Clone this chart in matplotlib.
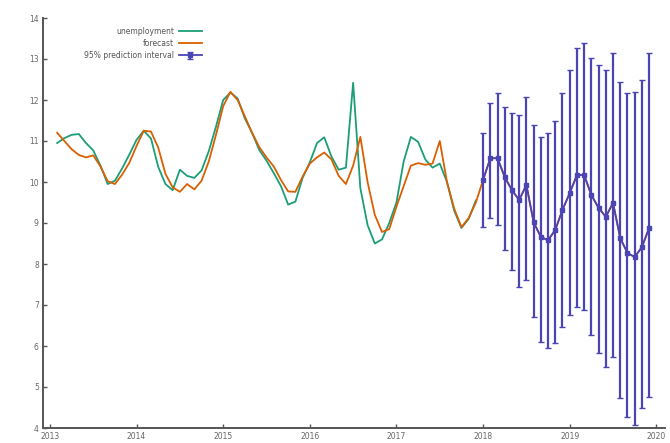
import numpy as np
import matplotlib
matplotlib.use("Agg")
import matplotlib.pyplot as plt

# Monthly unemployment rate (%), Feb 2013 - Dec 2017
observed = [10.95, 11.07, 11.15, 11.17, 10.95, 10.77, 10.40, 9.95, 10.03, 10.33, 10.67,
            11.03, 11.25, 11.06, 10.37, 9.95, 9.80, 10.30, 10.15, 10.10, 10.28, 10.75,
            11.35, 12.00, 12.18, 12.04, 11.55, 11.20, 10.78, 10.52, 10.22, 9.90, 9.45,
            9.52, 10.10, 10.48, 10.95, 11.09, 10.62, 10.30, 10.35, 12.42, 9.85, 8.95,
            8.50, 8.60, 9.00, 9.50, 10.50, 11.10, 10.98, 10.55, 10.35, 10.45, 10.00,
            9.30, 8.88, 9.10, 9.55]

# In-sample one-step-ahead fitted values, same months
fitted = [11.20, 11.00, 10.80, 10.66, 10.60, 10.65, 10.38, 10.02, 9.95, 10.18, 10.47,
          10.88, 11.25, 11.23, 10.84, 10.20, 9.87, 9.76, 9.95, 9.82, 10.03, 10.50,
          11.15, 11.85, 12.20, 12.00, 11.60, 11.20, 10.85, 10.60, 10.38, 10.05, 9.77,
          9.76, 10.13, 10.45, 10.60, 10.72, 10.55, 10.15, 9.95, 10.40, 11.10, 10.00,
          9.20, 8.78, 8.85, 9.40, 9.90, 10.40, 10.46, 10.42, 10.45, 11.00, 10.00,
          9.35, 8.90, 9.12, 9.50]

# Point forecasts and 95% bounds, Jan 2018 - Dec 2019
fc_mean = [10.05, 10.58, 10.58, 10.12, 9.80, 9.56, 9.93, 9.02, 8.66, 8.58, 8.83, 9.32,
           9.73, 10.17, 10.17, 9.68, 9.37, 9.15, 9.49, 8.63, 8.27, 8.17, 8.41, 8.88]
fc_upper = [11.20, 11.93, 12.17, 11.83, 11.68, 11.63, 12.07, 11.39, 11.10, 11.20, 11.50, 12.17,
            12.73, 13.27, 13.39, 13.02, 12.85, 12.73, 13.15, 12.44, 12.17, 12.20, 12.49, 13.15]
fc_lower = [8.90, 9.12, 8.95, 8.34, 7.85, 7.44, 7.60, 6.70, 6.10, 5.95, 6.07, 6.46,
            6.76, 6.95, 6.88, 6.27, 5.83, 5.49, 5.73, 4.73, 4.27, 4.07, 4.50, 4.75]

years = [2013, 2014, 2015, 2016, 2017, 2018, 2019, 2020]
y_ticks = [4, 5, 6, 7, 8, 9, 10, 11, 12, 13, 14]

obs_t = 2013 + (1 + np.arange(len(observed))) / 12.0
fc_t = 2018 + np.arange(len(fc_mean)) / 12.0

c_obs = "#1b9e77"
c_fit = "#d95f02"
c_fc = "#4b44b5"
c_axis = "#555555"

fig = plt.figure(figsize=(6.70, 4.43), dpi=100)
ax = fig.add_axes([43 / 670, 15 / 443, 622 / 670, 410 / 443])

ax.plot(obs_t, observed, color=c_obs, lw=1.3, label="unemployment", zorder=3)
ax.plot(np.concatenate([obs_t, fc_t]), np.concatenate([fitted, fc_mean]),
        color=c_fit, lw=1.3, label="forecast", zorder=4)

fc_mean_a = np.array(fc_mean)
yerr = [fc_mean_a - np.array(fc_lower), np.array(fc_upper) - fc_mean_a]
ax.errorbar(fc_t, fc_mean, yerr=yerr, color=c_fc, ecolor=c_fc, lw=1.3,
            elinewidth=1.6, capsize=2.0, capthick=1.0, marker="s", markersize=3.0,
            label="95% prediction interval", zorder=5)

ax.set_xlim(2012.92, 2020.10)
ax.set_ylim(4, 14)
ax.set_xticks(years)
ax.set_xticklabels([str(y) for y in years])
ax.set_yticks(y_ticks)
ax.set_yticklabels([str(v) for v in y_ticks])

for side in ("top", "right"):
    ax.spines[side].set_visible(False)
for side in ("left", "bottom"):
    ax.spines[side].set_color(c_axis)
    ax.spines[side].set_linewidth(1.4)
ax.tick_params(direction="in", length=3, width=1, color=c_axis,
               labelsize=5.5, labelcolor="#666666", pad=3)

leg = ax.legend(loc="upper left", bbox_to_anchor=(0.055, 0.995), frameon=False,
                fontsize=5.5, markerfirst=False, handlelength=3.0,
                labelspacing=0.4, handletextpad=0.6)
for t in leg.get_texts():
    t.set_color("#555555")
    t.set_ha("right")

fig.savefig("out.png", dpi=100)
